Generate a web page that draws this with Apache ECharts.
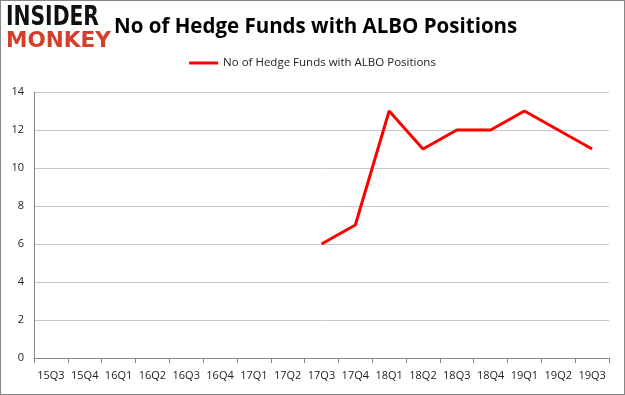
<!DOCTYPE html>
<html><head><meta charset="utf-8">
<script src="https://cdn.jsdelivr.net/npm/echarts@6/dist/echarts.min.js"></script>
<style>html,body{margin:0;padding:0;background:#fff}#c{width:625px;height:395px;box-sizing:border-box;border:1px solid #888}</style>
</head><body><div id="c"></div>
<script>
const categories = ['15Q3','15Q4','16Q1','16Q2','16Q3','16Q4','17Q1','17Q2','17Q3','17Q4','18Q1','18Q2','18Q3','18Q4','19Q1','19Q2','19Q3'];
const seriesValues = [null,null,null,null,null,null,null,null,6,7,13,11,12,12,13,12,11];
const seriesName = 'No of Hedge Funds with ALBO Positions';
const yTicks = [0,2,4,6,8,10,12,14];

const chart = echarts.init(document.getElementById('c'));
const F = '"Open Sans", "DejaVu Sans", sans-serif';
chart.setOption({
  animation: false,
  title: {
    text: 'No of Hedge Funds with ALBO Positions',
    left: 108, top: 11,
    textStyle: {fontFamily: F, fontSize: 20.5, fontWeight: 'bold', color: '#000'}
  },
  graphic: [
    {type: 'text', x: 5, y: 4, scaleX: 0.78, style: {text: 'INSIDER', font: 'bold 26px "DejaVu Sans", sans-serif', fill: '#111', textVerticalAlign: 'top'}},
    {type: 'text', x: 5, y: 29, scaleX: 0.98, style: {text: 'MONKEY', font: 'bold 22px "DejaVu Sans", sans-serif', fill: '#d2402c', textVerticalAlign: 'top'}}
  ],
  legend: {
    top: 51, left: 'center',
    itemWidth: 29, itemHeight: 3, itemGap: 6,
    icon: 'rect',
    textStyle: {fontFamily: F, fontSize: 11.5, color: '#222'},
    data: [seriesName]
  },
  grid: {left: 33, right: 15, top: 91, bottom: 36},
  xAxis: {
    type: 'category', data: categories, boundaryGap: true,
    axisLine: {lineStyle: {color: '#888'}},
    axisTick: {show: true, alignWithLabel: false, lineStyle: {color: '#888'}},
    axisLabel: {fontFamily: F, fontSize: 11, color: '#222', interval: 0, margin: 12}
  },
  yAxis: {
    type: 'value', min: 0, max: 14, interval: 2,
    axisLine: {show: true, lineStyle: {color: '#888'}},
    axisTick: {show: false},
    splitLine: {lineStyle: {color: '#c8c8c8'}},
    axisLabel: {fontFamily: F, fontSize: 11, color: '#222', margin: 10}
  },
  series: [{
    name: seriesName, type: 'line', data: seriesValues,
    showSymbol: false, symbol: 'none',
    lineStyle: {color: '#ff0000', width: 3},
    itemStyle: {color: '#ff0000'}
  }]
});
</script></body></html>
